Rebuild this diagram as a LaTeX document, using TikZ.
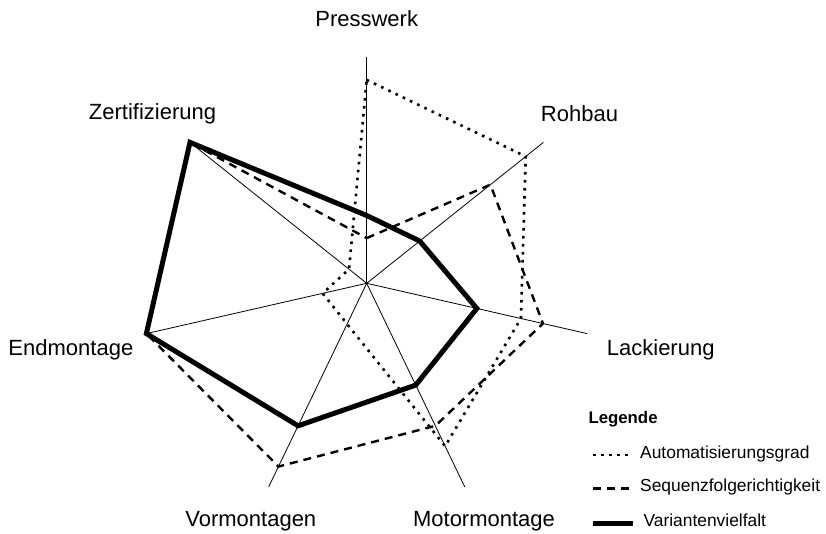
\documentclass[tikz,border=0pt]{standalone}
\usepackage{fontspec}
\setmainfont{Liberation Sans}
\usetikzlibrary{calc}

\tikzset{
  axisline/.style={line width=0.8pt, black},
  autoline/.style={line width=2.6pt, dash pattern=on 2.6pt off 5.4pt, black},
  seqline/.style={line width=2.4pt, dash pattern=on 8pt off 6pt, black},
  varline/.style={line width=5pt, black},
  axislabel/.style={inner sep=0pt, anchor=base, font=\fontsize{22}{26}\selectfont},
  legtext/.style={inner sep=0pt, anchor=base west, font=\fontsize{17.4}{20}\selectfont},
}

\begin{document}
\begin{tikzpicture}[x=1pt, y=1pt]
  \useasboundingbox (0,0) rectangle (826,533);

  % centre of the chart
  \coordinate (C) at (366.7,249.7);

  % axis ends
  \foreach \nm/\ang in {P/90, R/38.5714, L/-12.8571, M/-64.2857,
                        V/-115.7143, E/-167.1429, Z/141.4286}
    \coordinate (ax\nm) at ($(C)+(\ang:226)$);

  \foreach \nm in {P,R,L,M,V,E,Z}
    \draw[axisline] (C) -- (ax\nm);

  % data points: Automatisierungsgrad
  \foreach \ang/\v [count=\i] in {90/0.9, 38.5714/0.9, -12.8571/0.7, -64.2857/0.8,
                                  -115.7143/0.2, -167.1429/0.2, 141.4286/0.1}
    \coordinate (au\i) at ($(C)+(\ang:{\v*226})$);
  % data points: Sequenzfolgerichtigkeit
  \foreach \ang/\v [count=\i] in {90/0.2, 38.5714/0.7, -12.8571/0.8, -64.2857/0.7,
                                  -115.7143/0.9, -167.1429/1, 141.4286/1}
    \coordinate (sq\i) at ($(C)+(\ang:{\v*226})$);
  % data points: Variantenvielfalt
  \foreach \ang/\v [count=\i] in {90/0.3, 38.5714/0.3, -12.8571/0.5, -64.2857/0.5,
                                  -115.7143/0.7, -167.1429/1, 141.4286/1}
    \coordinate (va\i) at ($(C)+(\ang:{\v*226})$);

  \draw[autoline] (au1) -- (au2) -- (au3) -- (au4) -- (au5) -- (au6) -- (au7) -- cycle;
  \draw[seqline]  (sq1) -- (sq2) -- (sq3) -- (sq4) -- (sq5) -- (sq6) -- (sq7) -- cycle;
  \draw[varline]  (va1) -- (va2) -- (va3) -- (va4) -- (va5) -- (va6) -- (va7) -- cycle;

  % axis labels
  \node[axislabel] (lP) at (366.7,506.3) {Presswerk};
  \node[axislabel] (lR) at (579.5,411.3) {Rohbau};
  \node[axislabel, anchor=base west] (lL) at (606.7,178) {Lackierung};
  \node[axislabel] (lM) at (484,6.3) {Motormontage};
  \node[axislabel] (lV) at (250.8,6.3) {Vormontagen};
  \node[axislabel, anchor=base west] (lE) at (8.3,177.3) {Endmontage};
  \node[axislabel] (lZ) at (152.5,413) {Zertifizierung};

  % legend
  \node[legtext, font=\fontsize{16.8}{19}\selectfont\bfseries] (leg) at (588.3,109.7) {Legende};
  \coordinate (k1a) at (593,78);   \coordinate (k1b) at (628,78);
  \coordinate (k2a) at (593,44.7); \coordinate (k2b) at (630,44.7);
  \coordinate (k3a) at (593,9.7);  \coordinate (k3b) at (633,9.7);
  \draw[autoline] (k1a) -- (k1b);
  \draw[seqline]  (k2a) -- (k2b);
  \draw[varline]  (k3a) -- (k3b);
  \node[legtext] (t1) at (640,74.7) {Automatisierungsgrad};
  \node[legtext] (t2) at (640,41.3) {Sequenzfolgerichtigkeit};
  \node[legtext] (t3) at (643.3,6.3) {Variantenvielfalt};
\end{tikzpicture}
\end{document}
